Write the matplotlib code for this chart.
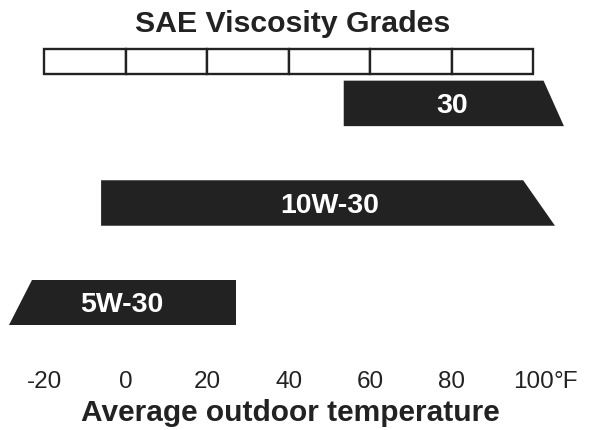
import matplotlib.pyplot as plt
from matplotlib.patches import Polygon, Rectangle

plt.rcParams['font.family'] = ['Liberation Sans', 'DejaVu Sans']

# temperature scale (°F)
scale_ticks = [-20, 0, 20, 40, 60, 80, 100]
tick_labels = ['-20', '0', '20', '40', '60', '80', '100']

# oil grades: usable temperature range, slanted end = open ended
grades = ['30', '10W-30', '5W-30']
low_temp = [53.5, -6.0, -23.0]
high_temp = [102.5, 97.5, 27.0]
# where the slanted ends reach at the bottom edge
low_slant = [53.5, -6.0, -28.7]
high_slant = [107.5, 105.3, 27.0]
label_at = [80, 50, -1]

bar_color = '#222222'

fig = plt.figure(figsize=(5.9, 4.3), dpi=100)
ax = fig.add_axes([0, 0, 1, 1])
# x in °F, y in pixel rows from the top
ax.set_xlim(-30.79, 113.89)
ax.set_ylim(430, 0)
ax.axis('off')

# SAE scale boxes
for a, b in zip(scale_ticks[:-1], scale_ticks[1:]):
    ax.add_patch(Rectangle((a, 49.3), b - a, 24.4, facecolor='white',
                           edgecolor=bar_color, lw=1.7))

ax.text(41, 31.7, 'SAE Viscosity Grades', ha='center', va='baseline',
        fontsize=21.8, fontweight='bold', color=bar_color)

row_y = [103.4, 203.0, 302.5]
h = 45.5
for i, g in enumerate(grades):
    top = row_y[i] - h / 2
    bot = row_y[i] + h / 2
    pts = [(low_temp[i], top), (high_temp[i], top),
           (high_slant[i], bot), (low_slant[i], bot)]
    ax.add_patch(Polygon(pts, closed=True, facecolor=bar_color,
                         edgecolor='none'))
    ax.text(label_at[i], row_y[i] + 9.8, g, ha='center', va='baseline',
            fontsize=20.5, fontweight='bold', color='white')

last = None
for t, lab in zip(scale_ticks, tick_labels):
    last = ax.text(t, 388.3, lab, ha='center', va='baseline', fontsize=17.5,
                   color=bar_color)
# unit sits right after the last number
ax.annotate('°F', xy=(1, 0), xycoords=last, ha='left', va='bottom',
            fontsize=17.5, color=bar_color)

ax.text(40.3, 421, 'Average outdoor temperature', ha='center', va='baseline',
        fontsize=21.5, fontweight='bold', color=bar_color)

fig.savefig('out.png', dpi=100)
